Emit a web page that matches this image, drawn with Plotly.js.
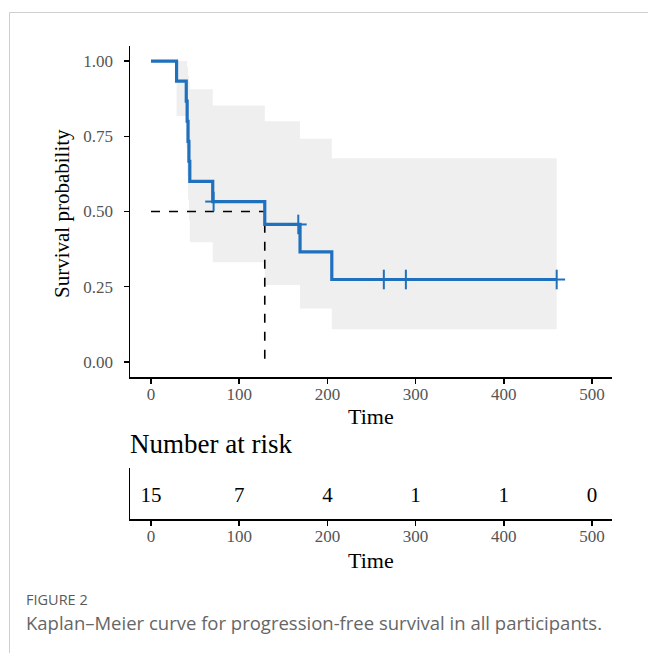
<!DOCTYPE html>
<html>
<head>
<meta charset="utf-8">
<script src="https://cdn.plot.ly/plotly-3.0.1.min.js"></script>
<style>
html,body{margin:0;padding:0;background:#fff;}
#chart{width:648px;height:653px;}
</style>
</head>
<body>
<div id="chart"></div>
<script>
// Kaplan-Meier step data (time at which survival changes)
var stepTimes = [0, 29, 40, 41, 42, 43, 44, 70, 129, 169, 205, 460];
var survival  = [1, 0.933, 0.867, 0.800, 0.733, 0.667, 0.600, 0.533, 0.457, 0.366, 0.274, 0.274];
var upperCI   = [1, 1.000, 1.000, 0.980, 0.950, 0.930, 0.906, 0.852, 0.800, 0.742, 0.677, 0.677];
var lowerCI   = [1, 0.817, 0.710, 0.620, 0.540, 0.470, 0.398, 0.331, 0.256, 0.178, 0.109, 0.109];
var censorTimes = [71, 167, 264, 289, 460];
var medianTime = 129;
var medianSurv = 0.5;
var riskTimes = [0, 100, 200, 300, 400, 500];
var riskCounts = [15, 7, 4, 1, 1, 0];
var yTicks = [0, 0.25, 0.5, 0.75, 1];
var xTicks = [0, 100, 200, 300, 400, 500];

function survAt(t){
  var s = survival[0];
  for (var i=0;i<stepTimes.length;i++){ if (stepTimes[i] <= t) s = survival[i]; }
  return s;
}
var censorSurv = censorTimes.map(survAt);

var W=648, H=653;
function px(x){return x/W;}
function py(y){return 1-y/H;}

var serif = 'Liberation Serif, Times New Roman, serif';
var sans = 'Open Sans, Noto Sans, sans-serif';
var blue = '#1f70bd';

var traces = [
  {x: stepTimes, y: upperCI, mode:'lines', line:{shape:'hv', width:0, color:'rgba(0,0,0,0)'}, hoverinfo:'skip', showlegend:false, xaxis:'x', yaxis:'y'},
  {x: stepTimes, y: lowerCI, mode:'lines', line:{shape:'hv', width:0, color:'rgba(0,0,0,0)'}, fill:'tonexty', fillcolor:'#efefef', hoverinfo:'skip', showlegend:false, xaxis:'x', yaxis:'y'},
  {x: [0, medianTime, medianTime], y: [medianSurv, medianSurv, 0], mode:'lines', line:{color:'#000', width:1.6, dash:'dash'}, showlegend:false, xaxis:'x', yaxis:'y'},
  {x: stepTimes, y: survival, mode:'lines', line:{shape:'hv', width:3.2, color:blue}, showlegend:false, xaxis:'x', yaxis:'y'},
  {x: censorTimes, y: censorSurv, mode:'markers', marker:{symbol:'line-ns-open', size:14, line:{width:2, color:blue}, color:blue}, showlegend:false, xaxis:'x', yaxis:'y'},
  {x: censorTimes, y: censorSurv, mode:'markers', marker:{symbol:'line-ew-open', size:12, line:{width:2, color:blue}, color:blue}, showlegend:false, xaxis:'x', yaxis:'y'},
  {x: riskTimes, y: riskTimes.map(function(){return 0.44;}), mode:'text', text: riskCounts.map(String), textposition:'middle center', textfont:{family:serif, size:21, color:'#000'}, showlegend:false, xaxis:'x2', yaxis:'y2'}
];

var axisCommon = {
  showline:true, linecolor:'#000', linewidth:1.5, ticks:'outside', ticklen:5, tickwidth:1.5, tickcolor:'#000',
  showgrid:false, zeroline:false, tickfont:{family:serif, size:17, color:'#555'}, automargin:false, fixedrange:true
};

var layout = {
  width:W, height:H, margin:{l:0,r:0,t:0,b:0}, paper_bgcolor:'#fff', plot_bgcolor:'rgba(0,0,0,0)',
  showlegend:false,
  xaxis: Object.assign({}, axisCommon, {domain:[px(130), px(612)], range:[-23.8, 522.7], tickvals:xTicks, ticktext:xTicks.map(String), anchor:'y', ticklabelstandoff:-4}),
  yaxis: Object.assign({}, axisCommon, {domain:[py(377), py(46)], range:[-0.05, 1.05], tickvals:yTicks, ticktext:yTicks.map(function(v){return v.toFixed(2);}), anchor:'x', ticklabelstandoff:7}),
  xaxis2: Object.assign({}, axisCommon, {domain:[px(130), px(612)], range:[-23.8, 522.7], tickvals:xTicks, ticktext:xTicks.map(String), anchor:'y2', ticklabelstandoff:-4}),
  yaxis2: Object.assign({}, axisCommon, {domain:[py(519), py(468)], range:[0,1], ticks:'', showticklabels:false, anchor:'x2'}),
  annotations: [
    {xref:'paper', yref:'paper', x:px(62), y:py(214), text:'Survival probability', textangle:-90, showarrow:false, font:{family:serif, size:21, color:'#000'}, xanchor:'center', yanchor:'middle'},
    {xref:'paper', yref:'paper', x:px(371), y:py(416), text:'Time', showarrow:false, font:{family:serif, size:22, color:'#000'}, xanchor:'center', yanchor:'middle'},
    {xref:'paper', yref:'paper', x:px(128), y:py(444), text:'Number at risk', showarrow:false, font:{family:serif, size:27, color:'#000'}, xanchor:'left', yanchor:'middle'},
    {xref:'paper', yref:'paper', x:px(371), y:py(560), text:'Time', showarrow:false, font:{family:serif, size:22, color:'#000'}, xanchor:'center', yanchor:'middle'},
    {xref:'paper', yref:'paper', x:px(24), y:py(599), text:'FIGURE 2', showarrow:false, font:{family:sans, size:14.5, color:'#5a5a5a'}, xanchor:'left', yanchor:'middle'},
    {xref:'paper', yref:'paper', x:px(24), y:py(622), text:'Kaplan\u2013Meier curve for progression-free survival in all participants.', showarrow:false, font:{family:sans, size:18.5, color:'#666'}, xanchor:'left', yanchor:'middle'}
  ],
  shapes: [
    {type:'line', xref:'paper', yref:'paper', x0:px(9.5), x1:1, y0:py(12.5), y1:py(12.5), line:{color:'#cfcfcf', width:1}},
    {type:'line', xref:'paper', yref:'paper', x0:px(9.5), x1:px(9.5), y0:py(12.5), y1:0, line:{color:'#cfcfcf', width:1}}
  ]
};

Plotly.newPlot('chart', traces, layout, {displayModeBar:false, staticPlot:true});
</script>
</body>
</html>
